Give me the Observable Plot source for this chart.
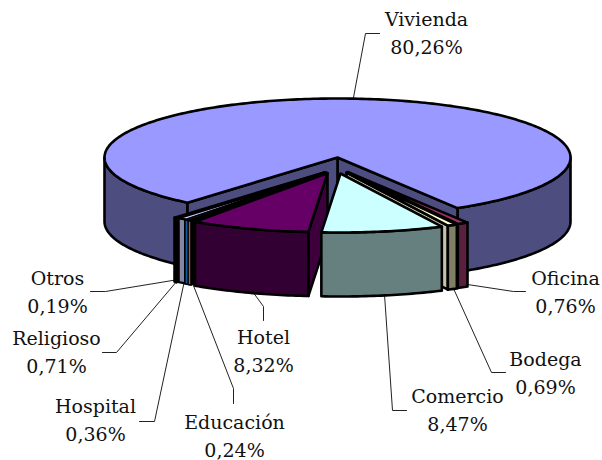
<!DOCTYPE html>
<html>
<head>
<meta charset="utf-8">
<script src="https://cdn.jsdelivr.net/npm/d3@7"></script>
<script src="https://cdn.jsdelivr.net/npm/@observablehq/plot@0.6"></script>
<style>html,body{margin:0;padding:0;background:#fff}svg{display:block}</style>
</head>
<body>
<div id="chart"></div>
<script>
// Data, clockwise from the main slice
const categories = ["Vivienda","Oficina","Bodega","Comercio","Hotel","Educación","Hospital","Religioso","Otros"];
const values     = [80.26,0.76,0.69,8.47,8.32,0.24,0.36,0.71,0.19];

// Styles
const topColors   = ["#9999ff","#993366","#ffffcc","#ccffff","#660066","#ff8080","#0066cc","#ccccff","#000080"];
const sideColors  = ["#4d4d80","#5a2040","#808066","#668080","#330033","#a85a50","#0f5fa0","#8585a6","#000040"];
const wallColors  = ["#4d4d80","#4d1a33","#c4c4a8","#668080","#3d003d","#000000","#000000","#000000","#000000"];
const edgeWidths  = [2.6,2.6,2.6,2.6,2.6,1.5,1.7,2.2,2.6];
// Exploded offsets of each slice on the page
const offsetX = [0,10,9,3,-10,-14,-13,-11,-13];
const offsetY = [0,14.5,15,16,15.7,15,15,15,15];
// Label and leader layout
const labelX  = [426,565,545,457,263,234,95,56,57];
const labelY  = [31,290,371,408,349,434,418,350,290];
const leaderX = [[353,365,379],[467,513,525],[453,491,505],[384,392,406],[252,263,263],[191,233,233],[184,154,139],[177,116,102],[178,105,90]];
const leaderY = [[97,33,33],[284,291,291],[288,372,372],[294,410,410],[291,306,320],[280,388,403],[280,421,421],[280,352,352],[279,291,291]];

// Pie layout
const cx = 337, cy = 157, rx = 233, ry = 59, depth = 64, startAngle = 31;
const rad = d => d * Math.PI / 180;
const rimPt = (a, sx = 0, sy = 0, dz = 0) => ({x: cx + sx + rx * Math.sin(rad(a)), y: cy + sy + dz + ry * Math.cos(rad(a))});
const arc = (a, b, sx = 0, sy = 0, dz = 0) => {
  const n = Math.max(1, Math.ceil(Math.abs(b - a)));
  return d3.range(n + 1).map(i => rimPt(a + (b - a) * i / n, sx, sy, dz));
};

const polys = [];
const add = (pts, fill, width = 2.6) => polys.push({pts, fill, width});
const wallFace = (a, sx, sy, fill, width) => {
  const apex = {x: cx + sx, y: cy + sy};
  const apex2 = {x: cx + sx, y: cy + sy + depth};
  add([apex, rimPt(a, sx, sy), rimPt(a, sx, sy, depth), apex2], fill, width);
};

// Main slice: outer wall, cut faces and top
const leftCut = startAngle - (100 - values[0]) * 3.6;
add([...arc(startAngle, 90), ...arc(90, startAngle, 0, 0, depth)], sideColors[0]);
add([...arc(leftCut, -90), ...arc(-90, leftCut, 0, 0, depth)], sideColors[0]);
wallFace(startAngle, 0, 0, sideColors[0]);
wallFace(leftCut, 0, 0, sideColors[0]);
add([{x: cx, y: cy}, ...arc(startAngle, leftCut + 360)], topColors[0]);

// Exploded slices, back to front; on screen, clockwise is a decreasing angle
const rest = categories.slice(1).map((name, k) => {
  const a1 = startAngle - d3.sum(values.slice(1, k + 1)) * 3.6;
  const a2 = a1 - values[k + 1] * 3.6;
  return {name, i: k + 1, a1, a2, mid: (a1 + a2) / 2};
}).sort((p, q) => Math.abs(q.mid) - Math.abs(p.mid));

for (const s of rest) {
  const sx = offsetX[s.i], sy = offsetY[s.i], w = edgeWidths[s.i];
  if (s.a2 > 0) wallFace(s.a2, sx, sy, wallColors[s.i], w);
  if (s.a1 < 0) wallFace(s.a1, sx, sy, wallColors[s.i], w);
  add([...arc(s.a1, s.a2, sx, sy), ...arc(s.a2, s.a1, sx, sy, depth)], sideColors[s.i], w);
  add([{x: cx + sx, y: cy + sy}, ...arc(s.a1, s.a2, sx, sy)], topColors[s.i], w);
}

const labels = categories.map((name, i) => ({
  x: labelX[i], y: labelY[i],
  text: name + "\n" + values[i].toFixed(2).replace(".", ",") + "%"
}));
const leaders = categories.flatMap((name, i) => leaderX[i].map((x, k) => ({name, x, y: leaderY[i][k]})));

const plot = Plot.plot({
  width: 602, height: 460,
  marginTop: 0, marginRight: 0, marginBottom: 0, marginLeft: 0,
  x: {domain: [0, 602], range: [0, 602], axis: null},
  y: {domain: [0, 460], range: [0, 460], axis: null},
  style: {background: "#fff"},
  marks: [
    Plot.line(leaders, {x: "x", y: "y", z: "name", stroke: "#222", strokeWidth: 1}),
    ...polys.map(p => Plot.line(p.pts, {x: "x", y: "y", fill: p.fill, stroke: "#000", strokeWidth: p.width, curve: "linear-closed"})),
    Plot.text(labels, {x: "x", y: "y", text: "text", fontFamily: "DejaVu Serif", fontSize: 19, lineHeight: 1.47, fill: "#111", textAnchor: "middle"})
  ]
});
document.getElementById("chart").appendChild(plot);
</script>
</body>
</html>
